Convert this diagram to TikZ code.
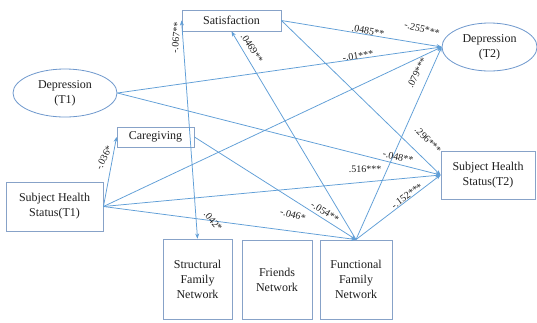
\documentclass[tikz,border=0pt]{standalone}
\usepackage{fontspec}
\setmainfont{Liberation Serif}
\usetikzlibrary{shapes.geometric,arrows.meta}
\definecolor{linec}{RGB}{95,158,215}
\definecolor{boxc}{RGB}{135,162,200}
\definecolor{ellc}{RGB}{110,152,205}
\definecolor{txt}{RGB}{30,30,30}
\begin{document}
\begin{tikzpicture}[x=1pt,y=-1pt,
  rbox/.style={draw=boxc,line width=0.9pt,inner sep=0pt,align=center,
    font=\rmfamily\fontsize{12}{15}\selectfont,text=txt},
  ell/.style={ellipse,draw=ellc,line width=0.8pt,inner sep=0pt,align=center,
    font=\rmfamily\fontsize{12}{15}\selectfont,text=txt},
  conn/.style={draw=linec,line width=0.75pt,-{Stealth[length=5pt,width=4pt]}},
  lab/.style={font=\rmfamily\fontsize{10}{12}\selectfont,text=txt,inner sep=0pt}]
\fill[white] (0,0) rectangle (537,322);
\useasboundingbox (0,0) rectangle (537,322);
% nodes
\node[rbox,minimum width=99pt,minimum height=21pt] (sat) at (231.5,20.5) {Satisfaction};
\node[ell,minimum width=95pt,minimum height=48pt] (dep2) at (489.5,47) {Depression\\(T2)};
\node[ell,minimum width=104pt,minimum height=48pt] (dep1) at (65,93) {Depression\\(T1)};
\node[rbox,minimum width=77pt,minimum height=20pt] (care) at (155.5,137) {Caregiving};
\node[rbox,minimum width=94pt,minimum height=48pt] (shs2) at (488,175) {Subject Health\\Status(T2)};
\node[rbox,minimum width=97pt,minimum height=49pt] (shs1) at (54.5,206.5) {Subject Health\\Status(T1)};
\node[rbox,minimum width=69pt,minimum height=80pt] (struct) at (197.5,279) {Structural\\Family\\Network};
\node[rbox,minimum width=70pt,minimum height=79pt] (friends) at (277,279.5) {Friends\\Network};
\node[rbox,minimum width=72pt,minimum height=79pt] (func) at (356,279.5) {Functional\\Family\\Network};
% connectors
\draw[conn] (shs1.east) -- (care.west);
\draw[conn,{Stealth[length=5pt,width=4pt]}-{Stealth[length=5pt,width=4pt]}] (sat.west) -- (struct.north);
\draw[conn] (func.north) -- (sat.south);
\draw[conn] (sat.east) -- (dep2.west);
\draw[conn] (sat.east) -- (shs2.west);
\draw[conn] (dep1.east) -- (dep2.west);
\draw[conn] (dep1.east) -- (shs2.west);
\draw[conn] (shs1.east) -- (dep2.west);
\draw[conn] (shs1.east) -- (shs2.west);
\draw[conn] (shs1.east) -- (func.north);
\draw[conn] (care.east) -- (func.north);
\draw[conn] (func.north) -- (dep2.west);
\draw[conn] (func.north) -- (shs2.west);
% labels
\node[lab,rotate=85] (l067) at (176,38) {-.067**};
\node[lab,rotate=-57] (l0469) at (252,48) {.0469**};
\node[lab,rotate=-10] (l0485) at (368,31) {.0485**};
\node[lab,rotate=-15] (l255) at (422,29) {-.255***};
\node[lab,rotate=8] (l01) at (358,56) {-.01***};
\node[lab,rotate=63] (l079) at (417,73) {.079***};
\node[lab,rotate=-45] (l296) at (428,140) {.296***};
\node[lab,rotate=-12] (l048) at (398,157) {-.048**};
\node[lab] (l516) at (365,169) {.516***};
\node[lab,rotate=36] (l152) at (407,196) {-.152***};
\node[lab,rotate=-32] (l054) at (325,212) {-.054**};
\node[lab,rotate=-15] (l046) at (293,215) {-.046*};
\node[lab,rotate=-50] (l042) at (213,221) {.042*};
\node[lab,rotate=63] (l036) at (104,158) {-.036*};
\end{tikzpicture}
\end{document}
